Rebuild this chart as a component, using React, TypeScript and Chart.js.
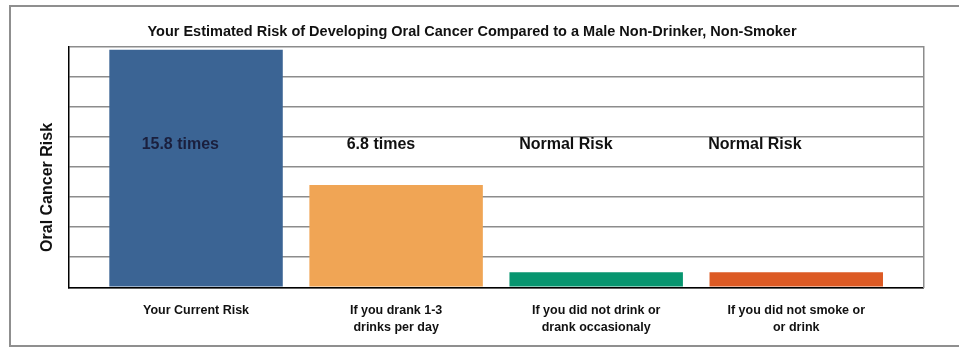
import React, { useEffect, useRef } from "react";
import { Chart, registerables } from "chart.js";

Chart.register(...registerables);

const TITLE = "Your Estimated Risk of Developing Oral Cancer Compared to a Male Non-Drinker, Non-Smoker";
const Y_TITLE = "Oral Cancer Risk";
const categories: string[][] = [
  ["Your Current Risk"],
  ["If you drank 1-3", "drinks per day"],
  ["If you did not drink or", "drank occasionaly"],
  ["If you did not smoke or", "or drink"],
];
const riskValues = [15.8, 6.8, 1, 1];
const barLabels = ["15.8 times", "6.8 times", "Normal Risk", "Normal Risk"];
const barColors = ["#3B6494", "#F0A555", "#07956F", "#DC5A24"];
const barLabelColors = ["#1a1f3d", "#111111", "#111111", "#111111"];
// horizontal offset of each in-chart note (in category units from bar centre) and its height in risk units
const labelOffsets = [-0.272, -0.247, -0.385, -0.44];
const labelLevel = 9.5;

const FONT = "'Liberation Sans', Arial, Helvetica, sans-serif";

const notesPlugin = {
  id: "notes",
  afterDatasetsDraw(chart: any) {
    const { ctx, scales } = chart;
    const x = scales.x;
    const y = scales.y;
    ctx.save();
    ctx.font = `bold 16px ${FONT}`;
    ctx.textAlign = "left";
    ctx.textBaseline = "middle";
    barLabels.forEach((t, i) => {
      ctx.fillStyle = barLabelColors[i];
      ctx.fillText(t, x.getPixelForValue(i + labelOffsets[i]), y.getPixelForValue(labelLevel));
    });
    ctx.restore();
  },
  afterDraw(chart: any) {
    const { ctx, chartArea } = chart;
    ctx.save();
    ctx.font = `bold 16px ${FONT}`;
    ctx.fillStyle = "#111111";
    ctx.textAlign = "center";
    ctx.textBaseline = "middle";
    ctx.translate(chartArea.left - 20.8, chartArea.top + (chartArea.bottom - chartArea.top) * 0.585);
    ctx.rotate(-Math.PI / 2);
    ctx.fillText(Y_TITLE, 0, 0);
    ctx.restore();
  },
};

export default function App() {
  const ref = useRef<HTMLCanvasElement | null>(null);
  useEffect(() => {
    if (!ref.current) return;
    const chart = new Chart(ref.current, {
      type: "bar",
      data: {
        datasets: [
          {
            data: riskValues.map((v, i) => ({ x: i, y: v })),
            backgroundColor: barColors,
            borderWidth: 0,
            barPercentage: 0.867,
            categoryPercentage: 1,
          },
        ],
      },
      options: {
        animation: false,
        responsive: false,
        maintainAspectRatio: false,
        layout: { padding: { left: 0, right: 15, top: 0, bottom: 0 } },
        plugins: {
          legend: { display: false },
          tooltip: { enabled: false },
          title: {
            display: true,
            text: TITLE,
            color: "#111111",
            font: { family: FONT, size: 14.5, weight: "bold", lineHeight: 1.2 },
            padding: { top: 23, bottom: 6.3 },
          },
        },
        scales: {
          x: {
            type: "linear",
            offset: false,
            min: -0.6385,
            max: 3.635,
            afterBuildTicks: (scale: any) => {
              scale.ticks = categories.map((_, i) => ({ value: i }));
            },
            afterFit: (scale: any) => {
              scale.height = 59.7;
            },
            grid: { display: false, drawTicks: false, offset: false },
            border: { display: true, color: "#000000", width: 1.5 },
            ticks: {
              autoSkip: false,
              maxRotation: 0,
              padding: 15,
              color: "#111111",
              font: { family: FONT, size: 12.5, weight: "bold", lineHeight: 1.36 },
              callback: (v: any) => categories[Math.round(Number(v))] ?? "",
            },
          },
          y: {
            min: 0,
            max: 16,
            afterFit: (scale: any) => {
              scale.width = 68.3;
            },
            ticks: { display: false, stepSize: 2 },
            grid: { color: "#8c8c8c", lineWidth: 1.5, drawTicks: false },
            border: { display: true, color: "#000000", width: 1.5 },
          },
          y2: {
            position: "right",
            min: 0,
            max: 1,
            afterFit: (scale: any) => {
              scale.width = 20.7;
            },
            ticks: { display: false },
            grid: { display: false, drawTicks: false },
            border: { display: true, color: "#8c8c8c", width: 1.5 },
          },
        },
      } as any,
      plugins: [notesPlugin],
    });
    return () => chart.destroy();
  }, []);

  return (
    <div style={{ position: "absolute", left: 0, top: 0, width: 959, height: 347, overflow: "hidden", background: "#fff" }}>
      <div
        style={{
          position: "absolute",
          left: 9,
          top: 5,
          width: 980,
          height: 342,
          border: "2px solid #8f8f8f",
          boxSizing: "border-box",
        }}
      />
      <canvas ref={ref} width={959} height={347} style={{ position: "absolute", left: 0, top: 0, width: 959, height: 347 }} />
    </div>
  );
}
